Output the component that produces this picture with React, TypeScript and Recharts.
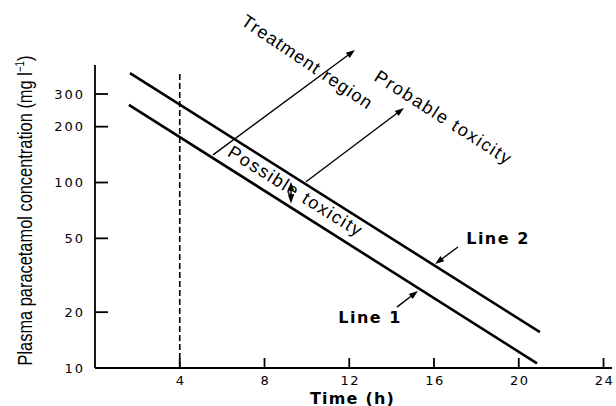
import { LineChart, Line, XAxis, YAxis, ReferenceLine, ReferenceDot, Label } from 'recharts';

// time (h) vs plasma concentration (mg/l)
const line1 = [
    { t: 1.6, v: 262 },
    { t: 20.86, v: 10.6 },
];
const line2 = [
    { t: 1.65, v: 389 },
    { t: 21.0, v: 15.6 },
];
const xTicks = [4, 8, 12, 16, 20, 24];
const yTicks = [10, 20, 50, 100, 200, 300];

// annotation arrows, in data units [t, v]
const arrows = [
    { id: 'treatment', from: [5.57, 141], to: [12.27, 518], both: false },
    { id: 'probable', from: [9.96, 101], to: [14.58, 252], both: false },
    { id: 'possible', from: [9.25, 77], to: [9.25, 101], both: true },
    { id: 'line2', from: [17.13, 44.9], to: [16.05, 36.4], both: false },
    { id: 'line1', from: [14.25, 21.3], to: [15.24, 26.0], both: false },
];

const notes = [
    { text: 'Treatment region', t: 10.0, v: 447, angle: 34, len: 153 },
    { text: 'Probable toxicity', t: 16.42, v: 225, angle: 32.6, len: 158 },
    { text: 'Possible toxicity', t: 9.44, v: 90, angle: 32, len: 154 },
];
const callouts = [
    { text: 'Line 2', t: 19.02, v: 50.2 },
    { text: 'Line 1', t: 12.98, v: 18.8 },
];

const SANS = "'Liberation Sans', Arial, Helvetica, sans-serif";
const WIDE = "'DejaVu Sans', Verdana, sans-serif";

const arrowShape = (both: boolean) => (p: any) => {
    const { x1, y1, x2, y2 } = p;
    const dx = x2 - x1;
    const dy = y2 - y1;
    const d = Math.hypot(dx, dy) || 1;
    const ux = dx / d;
    const uy = dy / d;
    const L = 9;
    const W = 3.2;
    const head = (tx: number, ty: number, sx: number, sy: number) =>
        `${tx},${ty} ${tx - sx * L - sy * W},${ty - sy * L + sx * W} ${tx - sx * L + sy * W},${ty - sy * L - sx * W}`;
    return (
        <g>
            <line
                x1={both ? x1 + ux * L * 0.6 : x1}
                y1={both ? y1 + uy * L * 0.6 : y1}
                x2={x2 - ux * L * 0.6}
                y2={y2 - uy * L * 0.6}
                stroke="#000"
                strokeWidth={1.4}
            />
            <polygon points={head(x2, y2, ux, uy)} fill="#000" />
            {both && <polygon points={head(x1, y1, -ux, -uy)} fill="#000" />}
        </g>
    );
};

const XTick = ({ x, y, payload }: any) => (
    <g>
        <line x1={x} x2={x} y1={y} y2={y - 10} stroke="#000" strokeWidth={1.8} />
        <text x={x + 1} y={y + 12} textAnchor="middle" dominantBaseline="central" fontFamily={WIDE} fontSize={13} letterSpacing={1.5} fill="#000">
            {payload.value}
        </text>
    </g>
);

const YTick = ({ x, y, payload }: any) => (
    <g>
        <line x1={x} x2={x + 13} y1={y} y2={y} stroke="#000" strokeWidth={1.8} />
        <text x={x - 10} y={y} textAnchor="end" dominantBaseline="central" fontFamily={WIDE} fontSize={13} letterSpacing={2} fill="#000">
            {payload.value}
        </text>
    </g>
);

const App = () => {
    return (
        <div style={{ position: 'absolute', left: 0, top: 0, background: '#fff' }}>
            <LineChart width={616} height={406} margin={{ top: 65, right: 4, bottom: 0, left: 35 }}>
                <XAxis
                    dataKey="t"
                    type="number"
                    domain={[0, 24.4]}
                    ticks={xTicks}
                    allowDataOverflow
                    height={38}
                    tickSize={0}
                    tickMargin={0}
                    tickLine={false}
                    tick={<XTick />}
                    axisLine={{ stroke: '#000', strokeWidth: 1.8 }}
                >
                    <Label
                        content={(p: any) => {
                            const vb = p.viewBox ?? { x: 95, y: 368, width: 517, height: 38 };
                            return (
                                <text x={vb.x + vb.width / 2 - 1} y={vb.y + 30} textAnchor="middle" dominantBaseline="central" fontFamily={WIDE} fontWeight="bold" fontSize={16} letterSpacing={1.2} fill="#000">
                                    Time (h)
                                </text>
                            );
                        }}
                    />
                </XAxis>
                <YAxis
                    type="number"
                    scale="log"
                    domain={[10, 430]}
                    ticks={yTicks}
                    allowDataOverflow
                    width={60}
                    tickSize={0}
                    tickMargin={0}
                    tickLine={false}
                    tick={<YTick />}
                    axisLine={{ stroke: '#000', strokeWidth: 1.8 }}
                >
                    <Label
                        content={(p: any) => {
                            const vb = p.viewBox ?? { x: 35, y: 65, width: 60, height: 303 };
                            const x = vb.x - 3;
                            const y = vb.y + vb.height / 2 - 6;
                            return (
                                <text x={x} y={y} transform={`rotate(-90 ${x} ${y})`} textAnchor="middle" fontFamily={SANS} fontSize={20} textLength={310} lengthAdjust="spacingAndGlyphs" fill="#000">
                                    Plasma paracetamol concentration (mg l
                                    <tspan dy={-8} fontSize={12}>−1</tspan>
                                    <tspan dy={8}>)</tspan>
                                </text>
                            );
                        }}
                    />
                </YAxis>

                <ReferenceLine
                    segment={[{ x: 4, y: 10 }, { x: 4, y: 398 }]}
                    stroke="#000"
                    strokeWidth={1.6}
                    strokeDasharray="6 3"
                    ifOverflow="visible"
                />

                <Line data={line1} dataKey="v" stroke="#000" strokeWidth={2.6} dot={false} isAnimationActive={false} />
                <Line data={line2} dataKey="v" stroke="#000" strokeWidth={2.6} dot={false} isAnimationActive={false} />

                {arrows.map((a) => (
                    <ReferenceLine
                        key={a.id}
                        segment={[{ x: a.from[0], y: a.from[1] }, { x: a.to[0], y: a.to[1] }]}
                        ifOverflow="visible"
                        shape={arrowShape(a.both)}
                    />
                ))}

                {notes.map((n) => (
                    <ReferenceDot
                        key={n.text}
                        x={n.t}
                        y={n.v}
                        ifOverflow="visible"
                        shape={(p: any) => (
                            <text
                                x={p.cx}
                                y={p.cy}
                                transform={`rotate(${n.angle} ${p.cx} ${p.cy})`}
                                textAnchor="middle"
                                dominantBaseline="central"
                                fontFamily={SANS}
                                fontSize={18}
                                textLength={n.len}
                                lengthAdjust="spacing"
                                fill="#000"
                            >
                                {n.text}
                            </text>
                        )}
                    />
                ))}

                {callouts.map((c) => (
                    <ReferenceDot
                        key={c.text}
                        x={c.t}
                        y={c.v}
                        ifOverflow="visible"
                        shape={(p: any) => (
                            <text x={p.cx} y={p.cy} textAnchor="middle" dominantBaseline="central" fontFamily={WIDE} fontWeight="bold" fontSize={16} letterSpacing={1.5} fill="#000">
                                {c.text}
                            </text>
                        )}
                    />
                ))}
            </LineChart>
        </div>
    );
};

export default App;
